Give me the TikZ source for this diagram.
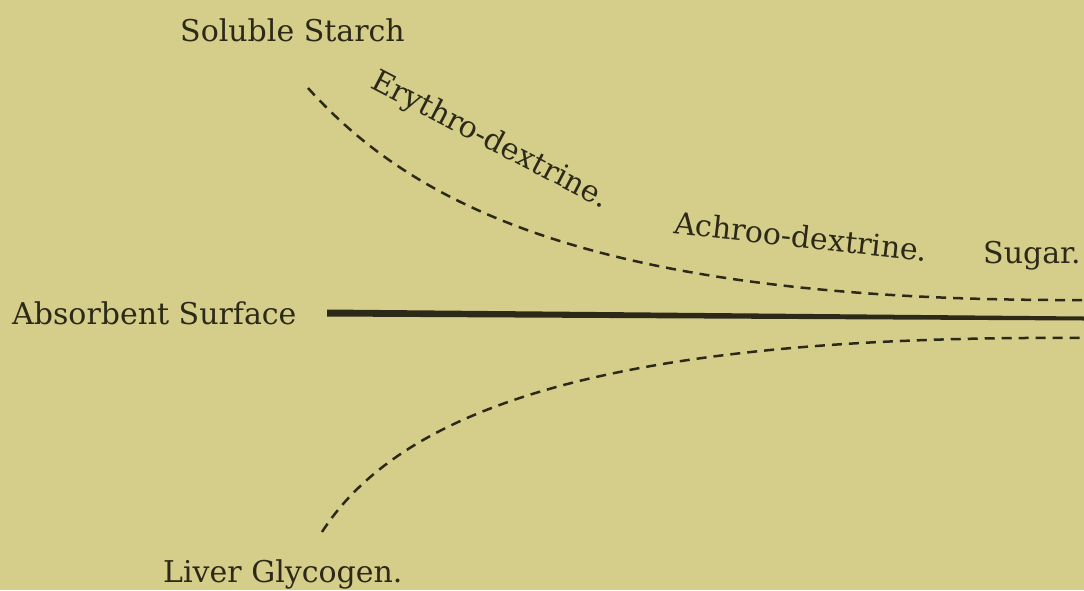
\documentclass[tikz,border=0pt]{standalone}
\usepackage{fontspec}
\setmainfont{DejaVu Serif}
\begin{document}
\definecolor{paper}{RGB}{212,206,138}
\definecolor{ink}{RGB}{45,41,24}
\begin{tikzpicture}[x=1pt,y=-1pt,
  lbl/.style={inner sep=0pt, text=ink, font=\fontsize{30}{36}\selectfont},
  dashcurve/.style={draw=ink, line width=2.5pt, dash pattern=on 10pt off 7pt}]
\useasboundingbox (0,0) rectangle (1084,590);
\fill[paper] (0,0) rectangle (1084,590);
% labels
\node[lbl, anchor=base west] (soluble) at (180,41) {Soluble Starch};
\node[lbl, anchor=base west, rotate=-27.5] (erythro) at (369,87) {Erythro-dextrine.};
\node[lbl, anchor=base west, rotate=-6.5] (achroo) at (673,233) {Achroo-dextrine.};
\node[lbl, anchor=base west] (sugar) at (983,263) {Sugar.};
\node[lbl, anchor=base west] (absorbent) at (12,324) {Absorbent Surface};
\node[lbl, anchor=base west] (liver) at (163,582) {Liver Glycogen.};
% absorbent surface (solid tapered line)
\fill[ink] (327,309.5) -- (1084,316.5) -- (1084,320.5) -- (327,316.5) -- cycle;
% upper dashed curve
\draw[dashcurve] (308,88) .. controls (415,207) and (600,302) .. (1084,300);
% lower dashed curve
\draw[dashcurve] (322,532) .. controls (410,395) and (650,335) .. (1084,338);
\end{tikzpicture}
\end{document}
